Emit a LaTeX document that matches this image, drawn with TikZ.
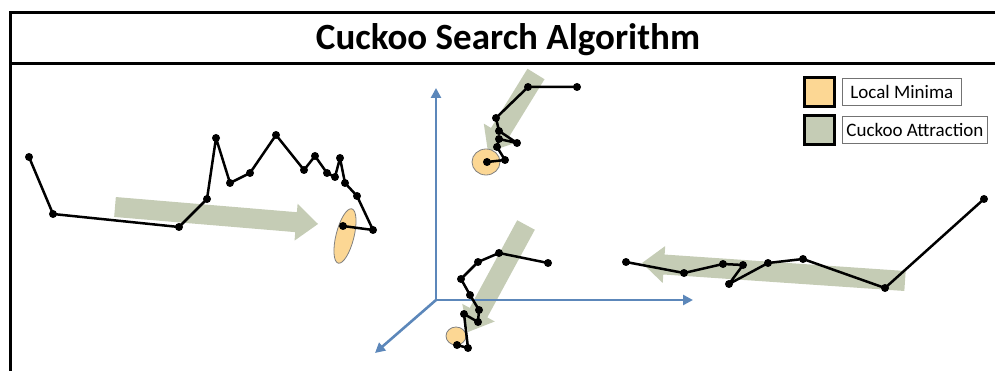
\documentclass[tikz,border=0pt]{standalone}
\usepackage{fontspec}
\setmainfont{Carlito}
\usetikzlibrary{calc,arrows.meta}
\definecolor{attract}{RGB}{197,204,181}
\definecolor{minima}{RGB}{252,215,148}
\definecolor{axisblue}{RGB}{92,135,186}
\tikzset{
  dot/.style={circle,fill=black,inner sep=0pt,minimum size=8pt},
  walk/.style={line width=2.5pt,black,line join=round},
  axisline/.style={line width=2.6pt,axisblue,-{Triangle[length=10pt,width=10pt]}},
  framel/.style={line width=3pt,black},
  minell/.style={fill=minima,draw=black!50,line width=0.8pt},
  legbox/.style={draw=black,line width=2.2pt,minimum width=30pt,minimum height=29pt,inner sep=0pt},
  leglabel/.style={draw=black!55,line width=0.8pt,fill=white,anchor=west,minimum height=27pt,inner sep=0pt,font=\fontsize{19}{22}\selectfont,text height=13pt}
}
% fat arrow from tail #1 to tip #2
\newcommand\fatarrow[2]{%
  \coordinate (#1h) at ($(#2)!22pt!(#1)$);
  \fill[attract] ($(#1)!10pt!90:(#2)$) -- ($(#1h)!10pt!90:(#2)$) -- ($(#1h)!18.5pt!90:(#2)$) -- (#2)
     -- ($(#1h)!18.5pt!-90:(#2)$) -- ($(#1h)!10pt!-90:(#2)$) -- ($(#1)!10pt!-90:(#2)$) -- cycle;}
\begin{document}
\begin{tikzpicture}[x=1pt,y=-1pt]
\useasboundingbox (0,0) rectangle (995,371);
% frame
\draw[framel] (995,13) -- (10,13) -- (10,371);
\draw[framel] (10,64) -- (995,64);
\node[font=\bfseries\fontsize{37}{40}\selectfont] (title) at (508,40) {Cuckoo Search Algorithm};
% attraction arrows
\coordinate (aL1) at (115,207); \coordinate (aL2) at (318,224);
\coordinate (aT1) at (536,74);  \coordinate (aT2) at (488,152);
\coordinate (aB1) at (526,225); \coordinate (aB2) at (468,332);
\coordinate (aR1) at (905,281); \coordinate (aR2) at (642,263);
\fatarrow{aL1}{aL2}
\fatarrow{aT1}{aT2}
\fatarrow{aB1}{aB2}
\fatarrow{aR1}{aR2}
% axes
\coordinate (O) at (436,300);
\coordinate (Ay) at (436,88);
\coordinate (Ax) at (693,300);
\coordinate (Az) at (375,353);
\draw[axisline] (O) -- (Ay);
\draw[axisline] (O) -- (Ax);
\draw[axisline] (O) -- (Az);
% local minima
\draw[minell] (345,236) ellipse [x radius=9pt, y radius=28pt, rotate=-14];
\draw[minell] (486,162) ellipse [x radius=14pt, y radius=13pt];
\draw[minell] (456,336) ellipse [x radius=10pt, y radius=9pt];
% left walk
\foreach \n/\x/\y in {L1/29/157,L2/53/214,L3/179/227,L4/207/199,L5/216/138,L6/230/183,L7/250/173,L8/276/135,L9/304/170,L10/315/156,L11/327/173,L12/335/177,L13/340/158,L14/345/183,L15/357/196,L16/373/230,L17/343/226}
  \node[dot] (\n) at (\x,\y) {};
\draw[walk] (L1.center) -- (L2.center) -- (L3.center) -- (L4.center) -- (L5.center) -- (L6.center) -- (L7.center) -- (L8.center) -- (L9.center) -- (L10.center) -- (L11.center) -- (L12.center) -- (L13.center) -- (L14.center) -- (L15.center) -- (L16.center) -- (L17.center);
% top walk
\foreach \n/\x/\y in {T1/577/87,T2/528/87,T3/496/118,T4/499/131,T5/517/143,T6/499/139,T7/497/147,T8/505/160,T9/487/162}
  \node[dot] (\n) at (\x,\y) {};
\draw[walk] (T1.center) -- (T2.center) -- (T3.center) -- (T4.center) -- (T5.center) -- (T6.center) -- (T7.center) -- (T8.center) -- (T9.center);
% bottom walk
\foreach \n/\x/\y in {B1/548/263,B2/499/253,B3/478/262,B4/461/279,B5/470/295,B6/479/310,B7/478/322,B8/464/314,B9/468/348,B10/457/345}
  \node[dot] (\n) at (\x,\y) {};
\draw[walk] (B1.center) -- (B2.center) -- (B3.center) -- (B4.center) -- (B5.center) -- (B6.center) -- (B7.center) -- (B8.center) -- (B9.center) -- (B10.center);
% right walk
\foreach \n/\x/\y in {R1/984/199,R2/885/288,R3/803/259,R4/768/263,R5/729/284,R6/743/265,R7/723/264,R8/684/273,R9/626/262}
  \node[dot] (\n) at (\x,\y) {};
\draw[walk] (R1.center) -- (R2.center) -- (R3.center) -- (R4.center) -- (R5.center) -- (R6.center) -- (R7.center) -- (R8.center) -- (R9.center);
% legend
\node[legbox,fill=minima] (legmin) at (819.5,92) {};
\node[legbox,fill=attract] (legatt) at (819.5,130) {};
\node[leglabel,minimum width=119pt] (labmin) at (842,92) {Local Minima};
\node[leglabel,minimum width=145pt] (labatt) at (842,130) {Cuckoo Attraction};
\end{tikzpicture}
\end{document}
